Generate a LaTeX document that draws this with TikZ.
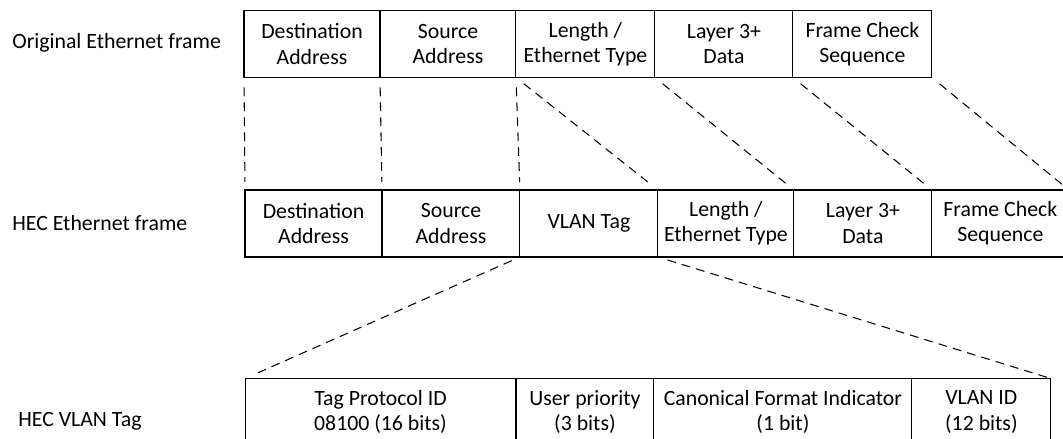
\documentclass[tikz,border=0pt]{standalone}
\usepackage{fontspec}
\setmainfont{Carlito}
\usetikzlibrary{positioning}
\tikzset{
	field/.style={draw, line width=0.6pt, outer sep=0pt, inner sep=0pt,
		minimum height=1.34cm, align=center, font=\fontsize{12.4}{14.4}\selectfont},
	rowlabel/.style={anchor=west, inner sep=0pt, font=\fontsize{12.4}{14.4}\selectfont},
	link/.style={line width=0.6pt, dash pattern=on 5pt off 3.5pt}
}
\begin{document}
\begin{tikzpicture}[x=0.02cm, y=-0.02cm]
		\useasboundingbox (0,0) rectangle (1063,439);
		
		\node[rowlabel] (lOrig) at (12,43)  {Original Ethernet frame};
		\node[rowlabel] (lHec)  at (12,223) {HEC Ethernet frame};
		\node[rowlabel] (lTag)  at (18,421) {HEC VLAN Tag};
		
		\node[field, minimum width=2.72cm] (oDst) at (312,44) {Destination\\Address};
		\node[field, minimum width=2.72cm, right=0pt of oDst] (oSrc) {Source\\Address};
		\node[field, minimum width=2.78cm, right=0pt of oSrc] (oLen) {Length /\\Ethernet Type};
		\node[field, minimum width=2.76cm, right=0pt of oLen] (oDat) {Layer 3+\\Data};
		\node[field, minimum width=2.78cm, right=0pt of oDat] (oFcs) {Frame Check\\Sequence};
		
		\node[field, minimum width=2.74cm] (hDst) at (313.5,223.5) {Destination\\Address};
		\node[field, minimum width=2.76cm, right=0pt of hDst] (hSrc) {Source\\Address};
		\node[field, minimum width=2.76cm, right=0pt of hSrc] (hTag) {VLAN Tag};
		\node[field, minimum width=2.72cm, right=0pt of hTag] (hLen) {Length /\\Ethernet Type};
		\node[field, minimum width=2.76cm, right=0pt of hLen] (hDat) {Layer 3+\\Data};
		\node[field, minimum width=2.74cm, right=0pt of hDat] (hFcs) {Frame Check\\Sequence};
		
		\node[field, minimum width=5.42cm] (tTpid) at (380.5,412) {Tag Protocol ID\\08100 (16 bits)};
		\node[field, minimum width=2.76cm, right=0pt of tTpid] (tPri) {User priority\\(3 bits)};
		\node[field, minimum width=5.16cm, right=0pt of tPri] (tCfi) {Canonical Format Indicator\\(1 bit)};
		\node[field, minimum width=2.78cm, right=0pt of tCfi] (tVid) {VLAN ID\\(12 bits)};
		
		\foreach \a/\b in {oDst/hDst, oSrc/hSrc, oLen/hTag, oLen/hLen, oDat/hDat, oFcs/hFcs}
			\draw[link, shorten <=0.2cm, shorten >=0.16cm] (\a.south west) -- (\b.north west);
		\draw[link, shorten <=0.2cm, shorten >=0.16cm] (oFcs.south east) -- (hFcs.north east);
		
		\draw[link, shorten <=0.18cm, shorten >=0.22cm] (hTag.south west) -- (tTpid.north west);
		\draw[link, shorten <=0.2cm, shorten >=0.02cm] (hLen.south west) -- (tVid.north east);
\end{tikzpicture}
\end{document}
